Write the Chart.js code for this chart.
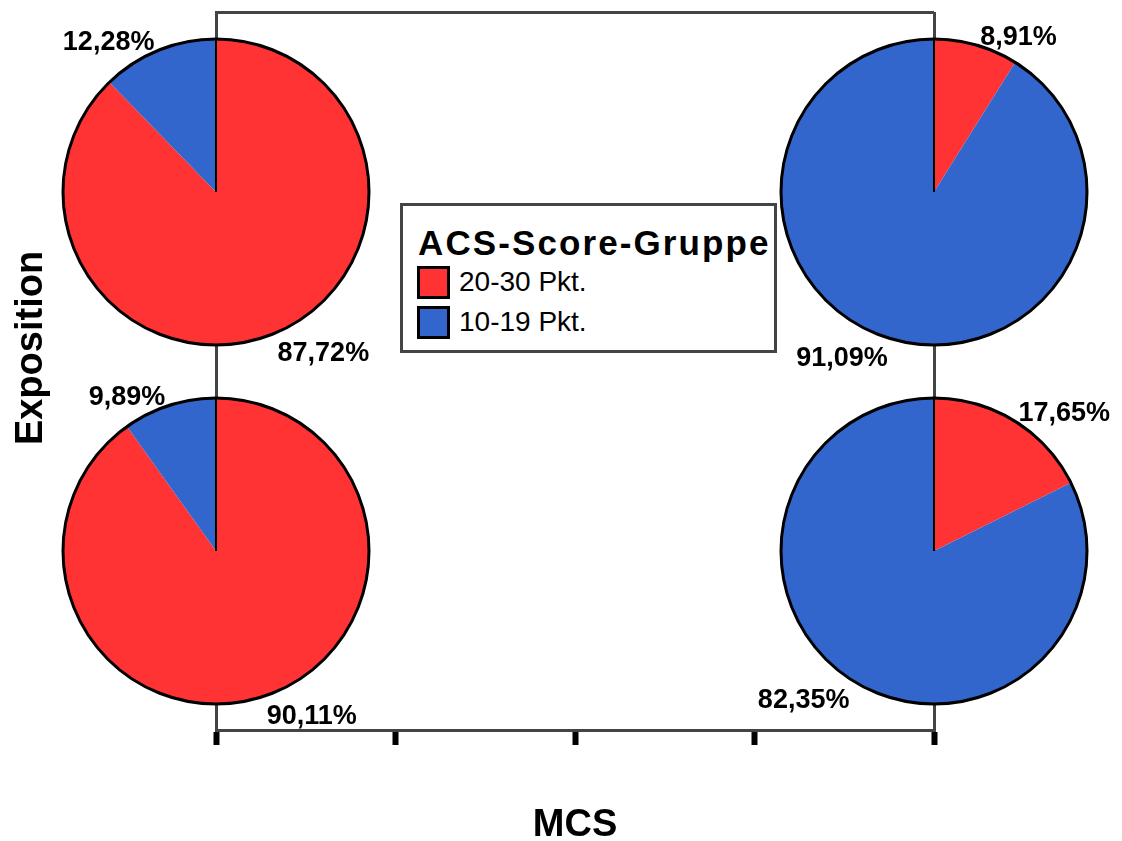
<!DOCTYPE html>
<html lang="de">
<head>
<meta charset="utf-8">
<title>ACS-Score-Gruppe nach MCS und Exposition</title>
<script src="https://cdn.jsdelivr.net/npm/chart.js@4/dist/chart.umd.min.js"></script>
<style>
  html, body { margin: 0; padding: 0; background: #fff; overflow: hidden; }
  #stage { position: relative; width: 1122px; height: 841px; font-family: "Liberation Sans", Arial, sans-serif; }
  #frame { position: absolute; left: 0; top: 0; }
  .pie { position: absolute; }
  #legend { position: absolute; left: 400px; top: 203px; width: 371px; height: 144px;
            border: 3px solid #444; background: #fff; }
  #legend .ttl { position: absolute; left: 15px; top: 19px; font-weight: bold; font-size: 35px;
                 line-height: 35px; letter-spacing: 2.1px; white-space: nowrap; color: #000; }
  #legend .sw { position: absolute; left: 14px; width: 27px; height: 27px; border: 3px solid #000; }
  #legend .lbl { position: absolute; left: 56px; font-size: 28px; line-height: 28px; white-space: nowrap; color: #000; }
</style>
</head>
<body>
<div id="stage">
  <canvas id="frame" width="1122" height="841"></canvas>
  <div id="legend"></div>
</div>
<script>
// ACS score groups, shares in percent per panel (MCS column x Exposition row)
const seriesLabels = ['20-30 Pkt.', '10-19 Pkt.'];
const seriesColors = ['#FF3333', '#3366CC'];
const legendTitle = 'ACS-Score-Gruppe';

const panelMCS        = [0, 4, 0, 4];   // value on the MCS axis
const panelExposition = [3, 3, 1, 1];   // value on the Exposition axis
const share2030 = [87.72, 8.91, 90.11, 17.65];
const share1019 = [12.28, 91.09, 9.89, 82.35];

const mcsTicks = [0, 1, 2, 3, 4];
const expositionRange = [0, 4];

const FONT = '"Liberation Sans", Arial, sans-serif';
const fmtPct = v => v.toFixed(2).replace('.', ',') + '%';

// rotated y-axis title
const sideTitle = {
  id: 'sideTitle',
  afterDraw(chart) {
    const { ctx } = chart;
    ctx.save();
    ctx.translate(42, 348);
    ctx.rotate(-Math.PI / 2);
    ctx.font = 'bold 38px ' + FONT;
    ctx.fillStyle = '#000';
    ctx.textAlign = 'center';
    ctx.textBaseline = 'alphabetic';
    ctx.fillText('Exposition', 0, 0);
    ctx.restore();
  }
};

// frame with the MCS axis
const frame = new Chart(document.getElementById('frame'), {
  type: 'scatter',
  data: { datasets: [] },
  options: {
    responsive: false,
    animation: false,
    events: [],
    layout: { padding: { top: 12, right: 188, left: 216, bottom: 0 } },
    plugins: { legend: { display: false }, tooltip: { enabled: false } },
    scales: {
      x: {
        type: 'linear',
        min: mcsTicks[0],
        max: mcsTicks[mcsTicks.length - 1],
        afterBuildTicks: s => { s.ticks = mcsTicks.map(v => ({ value: v })); },
        ticks: { display: false },
        grid: {
          color: c => (c.tick && c.tick.value === mcsTicks[mcsTicks.length - 1]) ? '#444' : 'rgba(0,0,0,0)',
          lineWidth: 3,
          drawTicks: true,
          tickLength: 15,
          tickWidth: 6,
          tickColor: '#000'
        },
        border: { display: true, color: '#444', width: 3 },
        title: {
          display: true,
          text: 'MCS',
          color: '#000',
          font: { family: FONT, size: 38, weight: 'bold', lineHeight: '30px' },
          padding: { top: 66, bottom: 0 }
        }
      },
      y: {
        type: 'linear',
        min: expositionRange[0],
        max: expositionRange[1],
        ticks: { display: false, stepSize: 1 },
        grid: {
          color: c => (c.tick && c.tick.value === expositionRange[1]) ? '#444' : 'rgba(0,0,0,0)',
          lineWidth: 3,
          drawTicks: false
        },
        border: { display: true, color: '#444', width: 3 }
      }
    }
  },
  plugins: [sideTitle]
});

// outline and percentage labels of each pie
const pieDecor = {
  id: 'pieDecor',
  afterDatasetsDraw(chart) {
    const { ctx } = chart;
    const meta = chart.getDatasetMeta(0);
    const ds = chart.data.datasets[0];
    if (!meta.data.length) return;
    const first = meta.data[0];
    const { x, y, outerRadius, startAngle } = first.getProps(['x', 'y', 'outerRadius', 'startAngle'], true);
    ctx.save();
    ctx.strokeStyle = '#000';
    ctx.lineWidth = 3;
    ctx.beginPath();
    ctx.arc(x, y, outerRadius, 0, Math.PI * 2);
    ctx.stroke();
    ctx.lineWidth = 2;
    ctx.beginPath();
    ctx.moveTo(x, y);
    ctx.lineTo(x + outerRadius * Math.cos(startAngle), y + outerRadius * Math.sin(startAngle));
    ctx.stroke();

    ctx.font = 'bold 27px ' + FONT;
    ctx.fillStyle = '#000';
    ctx.textBaseline = 'alphabetic';
    meta.data.forEach((arc, i) => {
      const p = arc.getProps(['x', 'y', 'startAngle', 'endAngle', 'outerRadius'], true);
      const mid = (p.startAngle + p.endAngle) / 2;
      const ex = p.x + p.outerRadius * Math.cos(mid);
      const ey = p.y + p.outerRadius * Math.sin(mid);
      const right = ex >= p.x;
      ctx.textAlign = right ? 'left' : 'right';
      const tx = ex + (right ? 4 : -4);
      const ty = ey < p.y ? ey : ey + 27;
      ctx.fillText(fmtPct(ds.data[i]), tx, ty);
    });
    ctx.restore();
  }
};

const PIE_BOX = 440;
const stage = document.getElementById('stage');
panelMCS.forEach((mcs, i) => {
  const cx = frame.scales.x.getPixelForValue(mcs);
  const cy = frame.scales.y.getPixelForValue(panelExposition[i]);
  const cv = document.createElement('canvas');
  cv.className = 'pie';
  cv.width = PIE_BOX;
  cv.height = PIE_BOX;
  cv.style.left = (cx - PIE_BOX / 2) + 'px';
  cv.style.top = (cy - PIE_BOX / 2) + 'px';
  stage.insertBefore(cv, document.getElementById('legend'));
  new Chart(cv, {
    type: 'pie',
    data: {
      labels: seriesLabels,
      datasets: [{
        data: [share2030[i], share1019[i]],
        backgroundColor: seriesColors,
        borderWidth: 0
      }]
    },
    options: {
      responsive: false,
      animation: false,
      events: [],
      radius: 153,
      layout: { padding: 0 },
      plugins: { legend: { display: false }, tooltip: { enabled: false } }
    },
    plugins: [pieDecor]
  });
});

// legend box
const legend = document.getElementById('legend');
const ttl = document.createElement('div');
ttl.className = 'ttl';
ttl.textContent = legendTitle;
legend.appendChild(ttl);
seriesLabels.forEach((lab, i) => {
  const top = 60 + i * 40;
  const sw = document.createElement('div');
  sw.className = 'sw';
  sw.style.top = top + 'px';
  sw.style.background = seriesColors[i];
  legend.appendChild(sw);
  const t = document.createElement('div');
  t.className = 'lbl';
  t.style.top = (top + 2) + 'px';
  t.textContent = lab;
  legend.appendChild(t);
});
</script>
</body>
</html>
